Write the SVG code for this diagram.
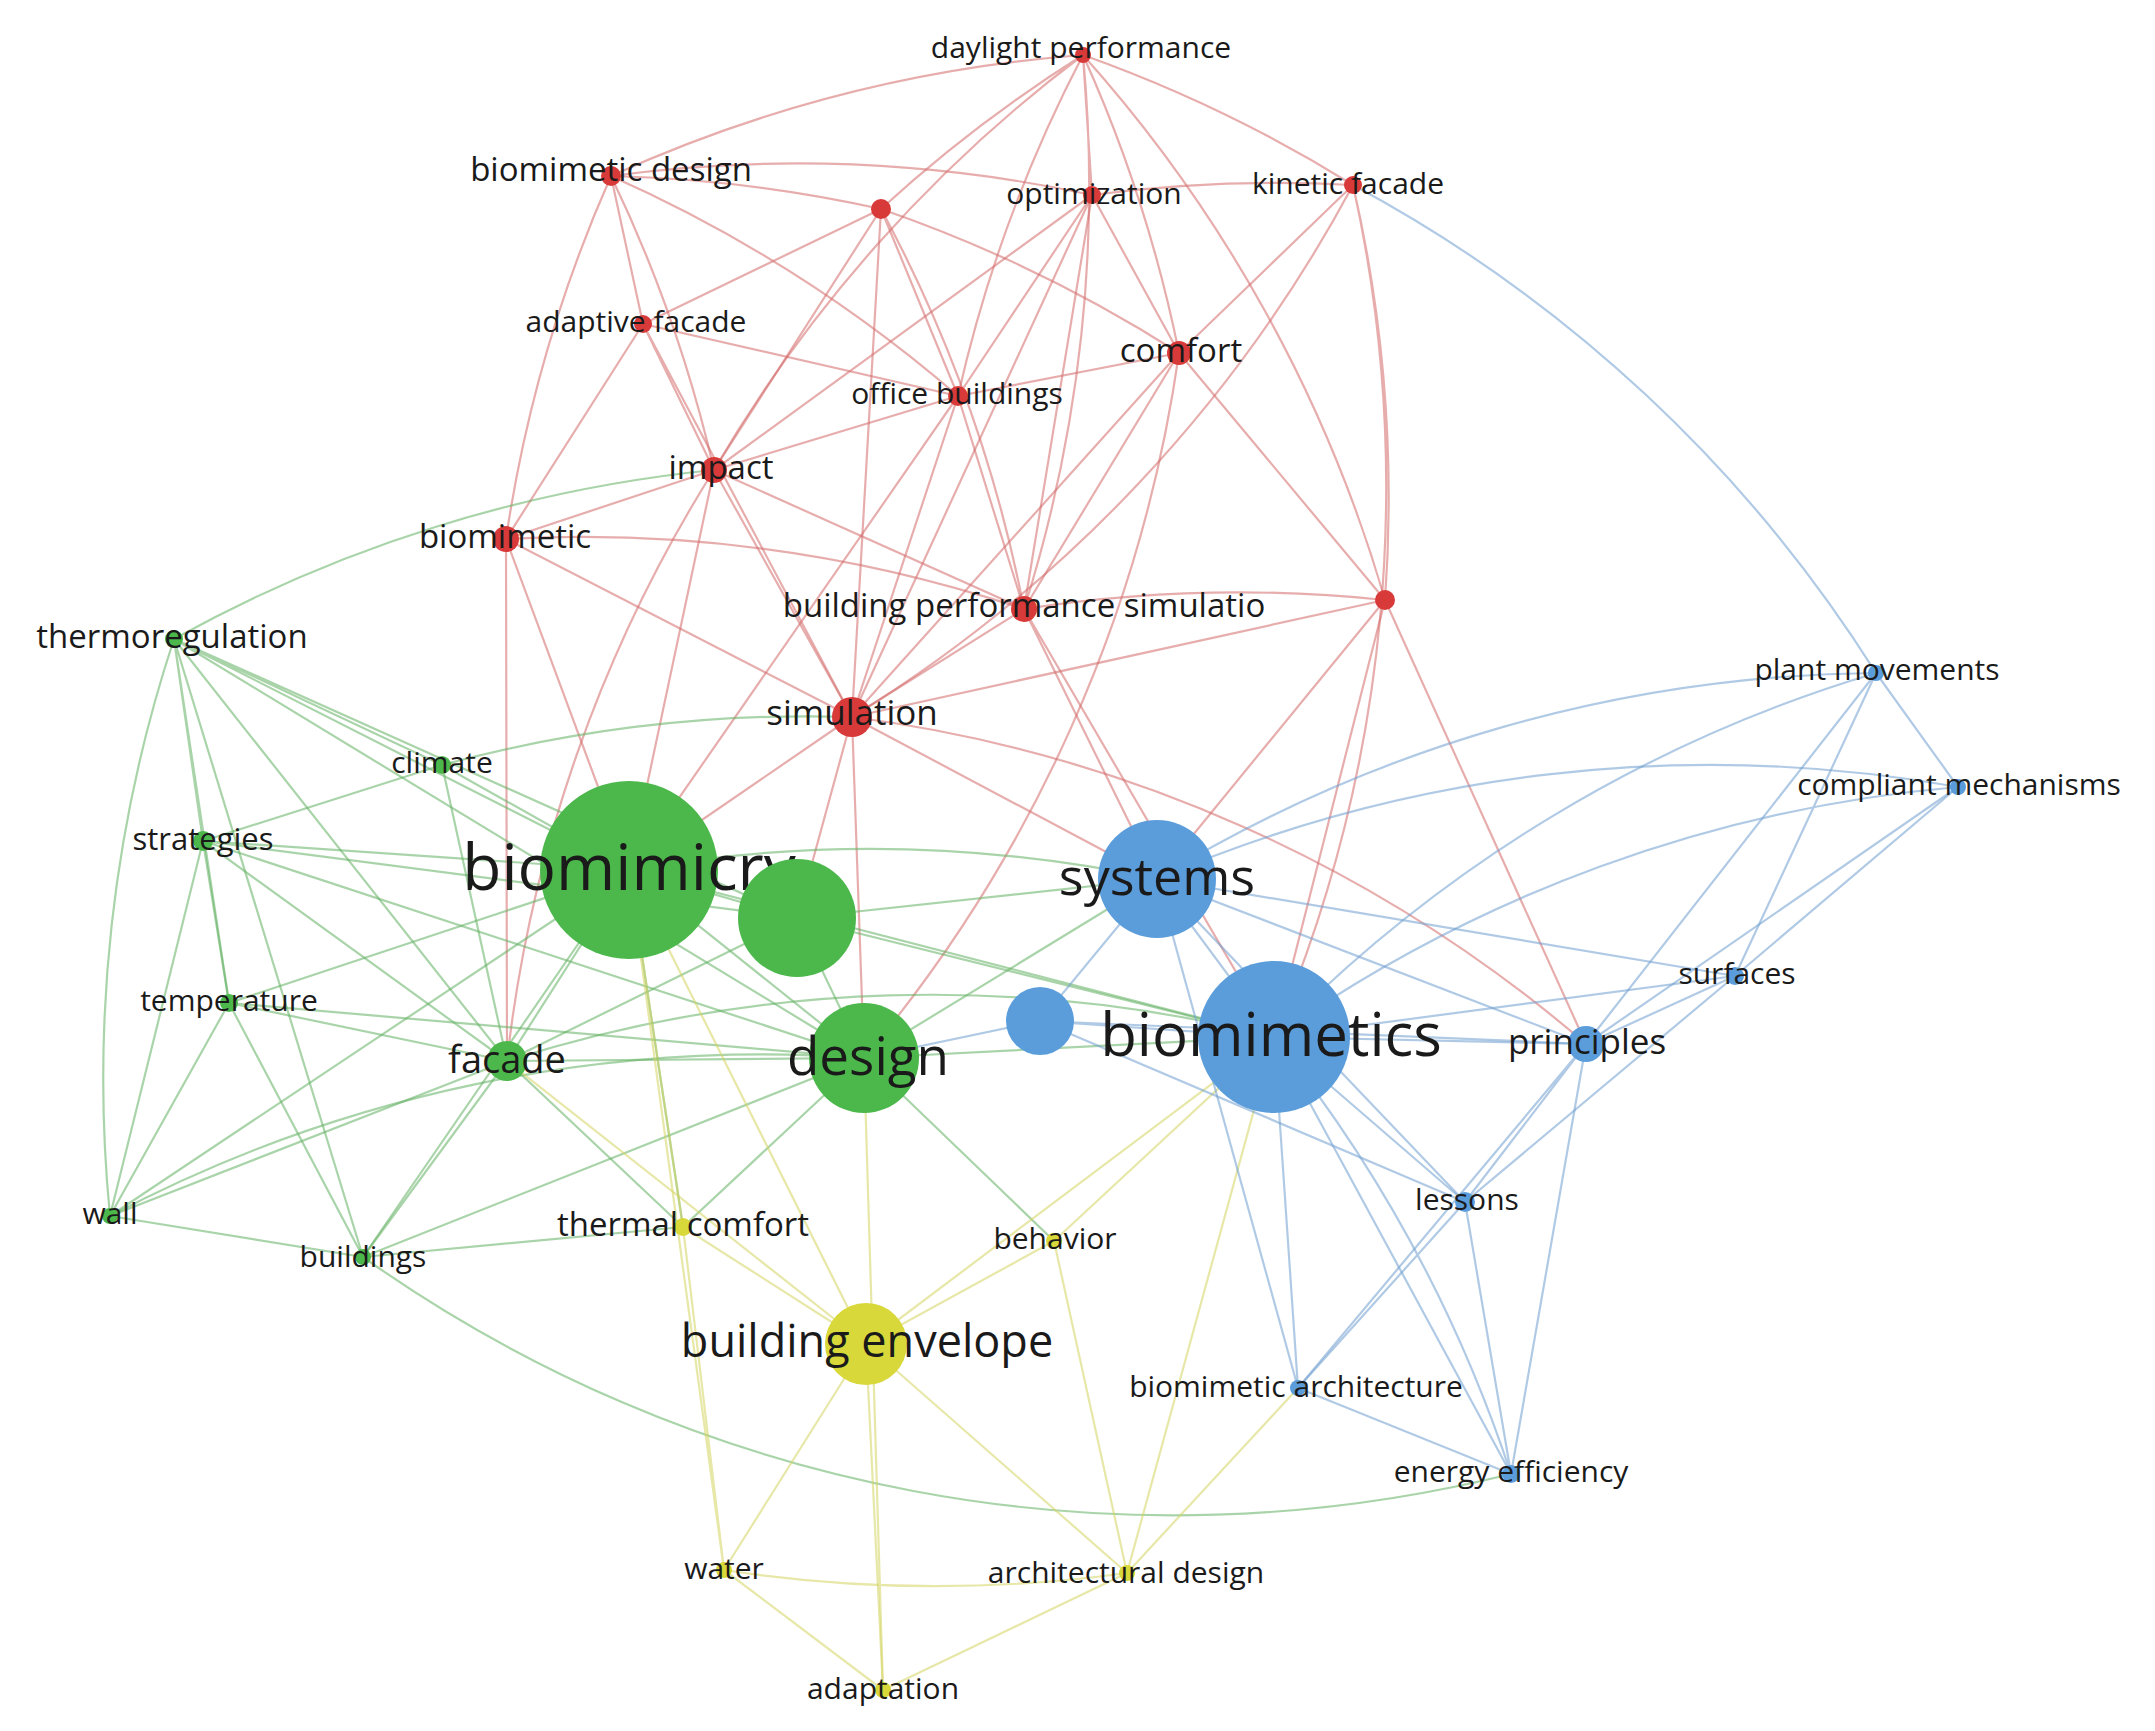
<svg xmlns="http://www.w3.org/2000/svg" width="2155" height="1731" viewBox="0 0 2155 1731">
<style>
text{font-family:"Open Sans","Liberation Sans",sans-serif;fill:#1a1a1a;text-anchor:middle}
.s{font-size:30px}.m{font-size:33px}
path{fill:none;stroke-width:2.2;stroke-opacity:.55}
.r path{stroke:#d36a6a}.g path{stroke:#62b062}.y path{stroke:#d4d460}.b path{stroke:#6f9fd0}
.nr{fill:#d83a3a}.ng{fill:#4cb84c}.ny{fill:#d8d83a}.nb{fill:#5b9ddb}
</style>
<rect width="2155" height="1731" fill="#fff"/>
<g id="connectors">
<g class="r">
<path d="M1083 55A1400 1400 0 0 0 611 176M1083 55A1400 1400 0 0 0 881 209M1083 55L1092 195M1083 55A1400 1400 0 0 1 1353 185M1083 55A1400 1400 0 0 1 1179 353M1083 55A1400 1400 0 0 0 958 396M1083 55A1400 1400 0 0 1 1024 609M1083 55A1400 1400 0 0 1 1385 600M1083 55A1400 1400 0 0 0 714 470"/>
<path d="M611 176A1400 1400 0 0 1 881 209M611 176A1400 1400 0 0 1 1092 195M611 176L643 324M611 176A1400 1400 0 0 0 506 539M611 176A1400 1400 0 0 1 714 470M611 176A1400 1400 0 0 1 958 396"/>
<path d="M881 209L643 324M881 209L958 396M881 209L714 470M881 209A1400 1400 0 0 1 1179 353M881 209L852 717M881 209A1400 1400 0 0 1 1024 609"/>
<path d="M1092 195A1400 1400 0 0 1 1353 185M1092 195L1179 353M1092 195L958 396M1092 195L1024 609M1092 195L714 470M1092 195L852 717"/>
<path d="M1353 185L1179 353M1353 185A1400 1400 0 0 1 1385 600M1353 185A1400 1400 0 0 1 852 717M1353 185A1400 1400 0 0 1 1274 1037"/>
<path d="M643 324L714 470M643 324L506 539M643 324L958 396M643 324L852 717"/>
<path d="M1179 353L958 396M1179 353L1024 609M1179 353L1385 600M1179 353L852 717M1179 353A1400 1400 0 0 1 864 1058"/>
<path d="M958 396L714 470M958 396L1024 609M958 396L852 717M958 396L629 870"/>
<path d="M714 470L506 539M714 470L1024 609M714 470L852 717M714 470L629 870M714 470A1400 1400 0 0 0 507 1061"/>
<path d="M506 539A1400 1400 0 0 1 1024 609M506 539L852 717M506 539L629 870M506 539L507 1061"/>
<path d="M1024 609L852 717M1024 609A1400 1400 0 0 1 1385 600M1024 609L1157 879M1024 609L1274 1037"/>
<path d="M1385 600L852 717M1385 600L1157 879M1385 600L1274 1037M1385 600L1586 1044"/>
<path d="M852 717L629 870M852 717L797 918M852 717L864 1058M852 717L1157 879M852 717A1400 1400 0 0 1 1586 1044"/>
</g>
<g class="g">
<path d="M174 639L203 841M174 639L229 1003M174 639A1400 1400 0 0 0 110 1216M174 639L629 870M174 639L507 1061M174 639L442 765M174 639A1400 1400 0 0 1 714 470M174 639L363 1257M174 639L864 1058M174 639L797 918"/>
<path d="M442 765L629 870M442 765L203 841M442 765L507 1061M442 765A1400 1400 0 0 1 852 717"/>
<path d="M203 841L229 1003M203 841L629 870M203 841L507 1061M203 841L110 1216M203 841L797 918M203 841L864 1058"/>
<path d="M629 870L797 918M629 870L864 1058M629 870L507 1061M629 870L229 1003M629 870A1400 1400 0 0 1 1157 879M629 870L1274 1037M629 870L110 1216M629 870L363 1257M629 870L683 1227"/>
<path d="M797 918L864 1058M797 918L1157 879M797 918L1274 1037M797 918L507 1061"/>
<path d="M229 1003L507 1061M229 1003L110 1216M229 1003L363 1257M229 1003L864 1058"/>
<path d="M507 1061L864 1058M507 1061L110 1216M507 1061L363 1257M507 1061L683 1227M507 1061A1400 1400 0 0 1 1274 1037"/>
<path d="M110 1216L363 1257M110 1216A1400 1400 0 0 1 864 1058"/>
<path d="M363 1257L683 1227M363 1257L864 1058M363 1257A1400 1400 0 0 0 1511 1474"/>
<path d="M864 1058L1274 1037M864 1058L1157 879M864 1058L683 1227M864 1058L1054 1241"/>
</g>
<g class="y">
<path d="M866 1344L683 1227M866 1344L1054 1241M866 1344L724 1570M866 1344L1127 1573M866 1344L883 1690M866 1344L629 870M866 1344L1274 1037M866 1344L507 1061"/>
<path d="M724 1570L883 1690M724 1570A1400 1400 0 0 0 1127 1573M724 1570L683 1227M724 1570L629 870M1127 1573L883 1690M1127 1573L1274 1037M1127 1573L1054 1241M883 1690L864 1058M683 1227L629 870M1054 1241L1274 1037M1127 1573L1298 1388"/>
</g>
<g class="b">
<path d="M1157 879L1274 1037M1157 879L1040 1021M1157 879L1586 1044M1157 879L1735 976M1157 879A1400 1400 0 0 1 1876 673M1157 879A1400 1400 0 0 1 1958 787M1157 879L1465 1202M1157 879L1298 1388"/>
<path d="M1040 1021L1274 1037M1040 1021L864 1058M1040 1021L1586 1044M1040 1021L1465 1202"/>
<path d="M1274 1037L1586 1044M1274 1037L1735 976M1274 1037L1465 1202M1274 1037L1298 1388M1274 1037L1511 1474M1274 1037A1400 1400 0 0 1 1876 673"/>
<path d="M1586 1044L1735 976M1586 1044L1465 1202M1586 1044L1876 673M1586 1044L1958 787M1586 1044L1298 1388M1586 1044L1511 1474"/>
<path d="M1735 976L1876 673M1735 976L1958 787M1735 976L1465 1202M1876 673L1958 787M1876 673A1400 1400 0 0 0 1353 185M1958 787A1400 1400 0 0 0 1274 1037"/>
<path d="M1465 1202L1298 1388M1465 1202L1511 1474M1298 1388L1511 1474M1511 1474A1400 1400 0 0 0 1274 1037"/>
</g>
</g>
<g id="n-dp"><circle class="nr" cx="1083" cy="55" r="8"/><text class="s" x="1081" y="58">daylight performance</text></g>
<g id="n-bd"><circle class="nr" cx="611" cy="176" r="10"/><text class="m" x="611" y="181">biomimetic design</text></g>
<g id="n-r1"><circle class="nr" cx="881" cy="209" r="10"/></g>
<g id="n-opt"><circle class="nr" cx="1092" cy="195" r="9"/><text class="s" x="1094" y="204">optimization</text></g>
<g id="n-kf"><circle class="nr" cx="1353" cy="185" r="9"/><text class="s" x="1348" y="194">kinetic facade</text></g>
<g id="n-af"><circle class="nr" cx="643" cy="324" r="9"/><text class="s" x="636" y="332">adaptive facade</text></g>
<g id="n-com"><circle class="nr" cx="1179" cy="353" r="12"/><text class="m" x="1181" y="362">comfort</text></g>
<g id="n-ob"><circle class="nr" cx="958" cy="396" r="10"/><text class="s" x="957" y="404">office buildings</text></g>
<g id="n-imp"><circle class="nr" cx="714" cy="470" r="13"/><text class="m" x="721" y="479">impact</text></g>
<g id="n-bio"><circle class="nr" cx="506" cy="539" r="13"/><text class="m" x="505" y="548">biomimetic</text></g>
<g id="n-bps"><circle class="nr" cx="1024" cy="609" r="13"/><text class="m" x="1024" y="617">building performance simulatio</text></g>
<g id="n-r2"><circle class="nr" cx="1385" cy="600" r="10"/></g>
<g id="n-sim"><circle class="nr" cx="852" cy="717" r="20"/><text style="font-size:35px" x="852" y="725">simulation</text></g>
<g id="n-th"><circle class="ng" cx="174" cy="639" r="9"/><text class="m" x="172" y="648">thermoregulation</text></g>
<g id="n-cli"><circle class="ng" cx="442" cy="765" r="9"/><text class="s" x="442" y="773">climate</text></g>
<g id="n-str"><circle class="ng" cx="203" cy="841" r="10"/><text style="font-size:31px" x="203" y="850">strategies</text></g>
<g id="n-bmc"><circle class="ng" cx="629" cy="870" r="89"/><text style="font-size:64px" x="629" y="890">biomimicry</text></g>
<g id="n-g2"><circle class="ng" cx="797" cy="918" r="59"/></g>
<g id="n-sys"><circle class="nb" cx="1157" cy="879" r="59"/><text style="font-size:52px" x="1157" y="895">systems</text></g>
<g id="n-pm"><circle class="nb" cx="1876" cy="673" r="8"/><text class="s" x="1877" y="680">plant movements</text></g>
<g id="n-cm"><circle class="nb" cx="1958" cy="787" r="8"/><text class="s" x="1959" y="795">compliant mechanisms</text></g>
<g id="n-srf"><circle class="nb" cx="1735" cy="976" r="9"/><text class="s" x="1737" y="984">surfaces</text></g>
<g id="n-tmp"><circle class="ng" cx="229" cy="1003" r="9"/><text class="s" x="229" y="1011">temperature</text></g>
<g id="n-fac"><circle class="ng" cx="507" cy="1061" r="20"/><text style="font-size:38px" x="507" y="1073">facade</text></g>
<g id="n-des"><circle class="ng" cx="864" cy="1058" r="55"/><text style="font-size:53px" x="868" y="1075">design</text></g>
<g id="n-b3"><circle class="nb" cx="1040" cy="1021" r="34"/></g>
<g id="n-bmt"><circle class="nb" cx="1274" cy="1037" r="76"/><text style="font-size:60px" x="1271" y="1056">biomimetics</text></g>
<g id="n-pri"><circle class="nb" cx="1586" cy="1044" r="18"/><text style="font-size:35px" x="1587" y="1054">principles</text></g>
<g id="n-les"><circle class="nb" cx="1465" cy="1202" r="10"/><text class="s" x="1467" y="1210">lessons</text></g>
<g id="n-wall"><circle class="ng" cx="110" cy="1216" r="8"/><text class="s" x="110" y="1224">wall</text></g>
<g id="n-bld"><circle class="ng" cx="363" cy="1257" r="8"/><text class="s" x="363" y="1267">buildings</text></g>
<g id="n-tc"><circle class="ny" cx="683" cy="1227" r="9"/><text class="m" x="683" y="1236">thermal comfort</text></g>
<g id="n-beh"><circle class="ny" cx="1054" cy="1241" r="8"/><text class="s" x="1055" y="1249">behavior</text></g>
<g id="n-be"><circle class="ny" cx="866" cy="1344" r="41"/><text style="font-size:45px" x="867" y="1357">building envelope</text></g>
<g id="n-ba"><circle class="nb" cx="1298" cy="1388" r="8"/><text class="s" x="1296" y="1397">biomimetic architecture</text></g>
<g id="n-ee"><circle class="nb" cx="1511" cy="1474" r="9"/><text class="s" x="1511" y="1482">energy efficiency</text></g>
<g id="n-water"><circle class="ny" cx="724" cy="1570" r="8"/><text class="s" x="724" y="1579">water</text></g>
<g id="n-ad"><circle class="ny" cx="1127" cy="1573" r="8"/><text class="s" x="1126" y="1583">architectural design</text></g>
<g id="n-adapt"><circle class="ny" cx="883" cy="1690" r="8"/><text class="s" x="883" y="1699">adaptation</text></g>
</svg>
